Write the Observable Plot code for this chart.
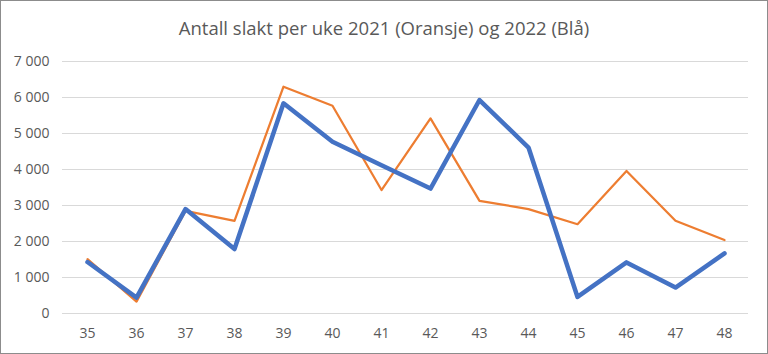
<!DOCTYPE html>
<html>
<head>
<meta charset="utf-8">
<script src="https://cdn.jsdelivr.net/npm/d3@7"></script>
<script src="https://cdn.jsdelivr.net/npm/@observablehq/plot@0.6"></script>
<style>
  html, body { margin: 0; padding: 0; background: #fff; }
  #wrap { width: 768px; height: 354px; box-sizing: border-box; border: 1px solid #8c8c8c; background: #fff; overflow: hidden; }
  #title { height: 46px; box-sizing: border-box; padding-top: 15px; text-align: center; font-family: "Open Sans", sans-serif; font-size: 18.5px; color: #595959; line-height: 24px; white-space: nowrap; }
  svg { display: block; }
</style>
</head>
<body>
<div id="wrap">
  <div id="title">Antall slakt per uke 2021 (Oransje) og 2022 (Blå)</div>
  <div id="chart"></div>
</div>
<script>
const weeks = ["35","36","37","38","39","40","41","42","43","44","45","46","47","48"];
const values2021 = [1510, 330, 2850, 2575, 6300, 5770, 3430, 5420, 3130, 2900, 2480, 3960, 2575, 2040];
const values2022 = [1430, 440, 2900, 1790, 5840, 4770, 4120, 3470, 5930, 4610, 460, 1420, 720, 1670];
const yTicks = [0, 1000, 2000, 3000, 4000, 5000, 6000, 7000];

const rows2021 = weeks.map((w, i) => ({week: w, value: values2021[i]}));
const rows2022 = weeks.map((w, i) => ({week: w, value: values2022[i]}));

const fmt = v => d3.format(",")(v).replace(/,/g, " ");

const chart = Plot.plot({
  width: 766,
  height: 306,
  marginTop: 14,
  marginBottom: 40,
  marginLeft: 61,
  marginRight: 19,
  style: {fontFamily: "Open Sans, sans-serif", fontSize: "14px", color: "#595959", background: "#fff", overflow: "visible"},
  x: {type: "point", domain: weeks, padding: 0.5, label: null},
  y: {domain: [0, 7000], label: null},
  marks: [
    Plot.gridY(yTicks, {stroke: "#d9d9d9", strokeOpacity: 1, strokeWidth: 1}),
    Plot.axisY(yTicks, {tickSize: 0, tickPadding: 13, tickFormat: fmt, label: null, fill: "#595959", fontSize: 14}),
    Plot.axisX({tickSize: 0, tickPadding: 15, label: null, fill: "#595959", fontSize: 14}),
    Plot.line(rows2021, {x: "week", y: "value", stroke: "#ED7D31", strokeWidth: 2.25, strokeLinejoin: "round", strokeLinecap: "round"}),
    Plot.line(rows2022, {x: "week", y: "value", stroke: "#4472C4", strokeWidth: 4.5, strokeLinejoin: "round", strokeLinecap: "round"})
  ]
});
document.getElementById("chart").appendChild(chart);
</script>
</body>
</html>
